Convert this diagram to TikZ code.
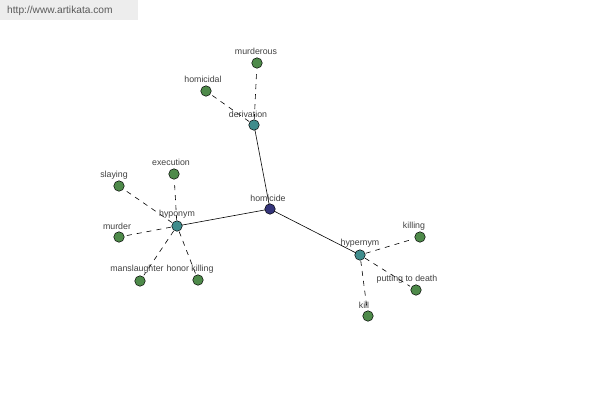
\documentclass[tikz,border=0pt]{standalone}
\usepackage{fontspec}
\setmainfont{Liberation Sans}
\begin{document}
\begin{tikzpicture}[x=1pt,y=-1pt,
  dot/.style={circle,draw=black,line width=0.5pt,minimum size=10.5pt,inner sep=0pt},
  leaf/.style={dot,fill=leafgreen},
  rel/.style={dot,fill=relteal},
  hub/.style={dot,fill=hubblue},
  lbl/.style={font=\fontsize{8.8}{10}\selectfont,text=black!75,inner sep=0pt},
  solidedge/.style={draw=black,line width=0.6pt},
  dashedge/.style={draw=black,line width=0.6pt,dash pattern=on 5pt off 5pt,shorten <=6pt,shorten >=7pt}]
\definecolor{leafgreen}{HTML}{4E8A4A}
\definecolor{relteal}{HTML}{3F8C8C}
\definecolor{hubblue}{HTML}{34347A}
\useasboundingbox (0,0) rectangle (600,400);
\fill[black!7] (0,0) rectangle (138,20);
\node[font=\fontsize{10.2}{12}\selectfont,text=black!65,anchor=west,inner sep=0pt] (url) at (7,11) {http://www.artikata.com};
% node coordinates
\coordinate (c-homicide) at (270,209);
\coordinate (c-derivation) at (254,125);
\coordinate (c-murderous) at (257,63);
\coordinate (c-homicidal) at (206,91);
\coordinate (c-hyponym) at (177,226);
\coordinate (c-execution) at (174,174);
\coordinate (c-slaying) at (119,186);
\coordinate (c-murder) at (119,237);
\coordinate (c-manslaughter) at (140,281);
\coordinate (c-honor) at (198,280);
\coordinate (c-hypernym) at (360,255);
\coordinate (c-killing) at (420,237);
\coordinate (c-putting) at (416,290);
\coordinate (c-kill) at (368,316);
% edges
\draw[solidedge] (c-homicide) -- (c-derivation);
\draw[solidedge] (c-homicide) -- (c-hyponym);
\draw[solidedge] (c-homicide) -- (c-hypernym);
\draw[dashedge] (c-derivation) -- (c-murderous);
\draw[dashedge] (c-derivation) -- (c-homicidal);
\draw[dashedge] (c-hyponym) -- (c-execution);
\draw[dashedge] (c-hyponym) -- (c-slaying);
\draw[dashedge] (c-hyponym) -- (c-murder);
\draw[dashedge] (c-hyponym) -- (c-manslaughter);
\draw[dashedge] (c-hyponym) -- (c-honor);
\draw[dashedge] (c-hypernym) -- (c-killing);
\draw[dashedge] (c-hypernym) -- (c-putting);
\draw[dashedge] (c-hypernym) -- (c-kill);
% nodes
\node[hub] (homicide) at (c-homicide) {};
\node[rel] (derivation) at (c-derivation) {};
\node[leaf] (murderous) at (c-murderous) {};
\node[leaf] (homicidal) at (c-homicidal) {};
\node[rel] (hyponym) at (c-hyponym) {};
\node[leaf] (execution) at (c-execution) {};
\node[leaf] (slaying) at (c-slaying) {};
\node[leaf] (murder) at (c-murder) {};
\node[leaf] (manslaughter) at (c-manslaughter) {};
\node[leaf] (honor) at (c-honor) {};
\node[rel] (hypernym) at (c-hypernym) {};
\node[leaf] (killing) at (c-killing) {};
\node[leaf] (putting) at (c-putting) {};
\node[leaf] (kill) at (c-kill) {};
% labels
\node[lbl] (l-homicide) at (268,198) {homicide};
\node[lbl] (l-derivation) at (248,114) {derivation};
\node[lbl] (l-murderous) at (256,51) {murderous};
\node[lbl] (l-homicidal) at (203,79) {homicidal};
\node[lbl] (l-hyponym) at (177,214) {hyponym};
\node[lbl] (l-execution) at (171,162) {execution};
\node[lbl] (l-slaying) at (114,175) {slaying};
\node[lbl] (l-murder) at (117,226) {murder};
\node[lbl] (l-manslaughter) at (137,269) {manslaughter};
\node[lbl] (l-honor) at (190,269) {honor killing};
\node[lbl] (l-hypernym) at (360,243) {hypernym};
\node[lbl] (l-killing) at (414,226) {killing};
\node[lbl] (l-putting) at (407,279) {putting to death};
\node[lbl] (l-kill) at (364,305) {kill};
\end{tikzpicture}
\end{document}
